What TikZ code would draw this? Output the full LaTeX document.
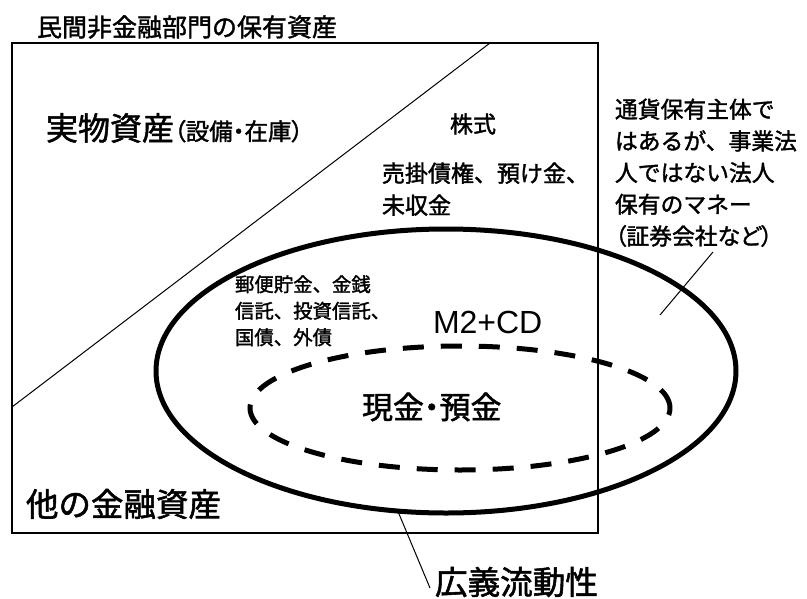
\documentclass[tikz,border=0pt]{standalone}
\usepackage{fontspec}
\setmainfont{Noto Sans CJK JP}[FakeBold=1.6]
\newfontfamily\pfont{Noto Sans CJK JP}[RawFeature=+palt, FakeBold=1.6]
\newfontfamily\latinfont{Liberation Sans}
\usetikzlibrary{shapes.geometric}
\tikzset{
  txt/.style={inner sep=0pt, outer sep=0pt, anchor=west},
  mtxt/.style={inner sep=0pt, outer sep=0pt, anchor=north west, align=left},
  frame/.style={line width=1.3pt},
  thin/.style={line width=1pt},
  bigell/.style={draw, ellipse, line width=5pt, inner sep=0pt, outer sep=0pt},
  dashell/.style={draw, ellipse, line width=5pt, inner sep=0pt, outer sep=0pt, dash pattern=on 21pt off 17pt}
}
\begin{document}
\begin{tikzpicture}[x=1pt,y=-1pt]
\useasboundingbox (0,0) rectangle (807,598);
% frame and diagonal
\draw[frame] (12,43) rectangle (598,533);
\coordinate (d1) at (12,407);
\coordinate (d2) at (490,43);
\draw[thin] (d1) -- (d2);
% ellipses
\node[bigell, minimum width=580pt, minimum height=284pt] (broad) at (446,371) {};
\node[dashell, minimum width=420pt, minimum height=124pt] (cash) at (460,408) {};
% texts
\node[txt, font=\fontsize{25}{30}\selectfont] (title) at (37,27) {民間非金融部門の保有資産};
\node[txt] (real) at (46,128) {\fontsize{32}{36}\selectfont 実物資産{\pfont\fontsize{23.5}{28}\selectfont （設備・在庫）}};
\node[txt, font=\fontsize{23}{28}\selectfont] (stock) at (450,124) {株式};
\node[mtxt, font=\fontsize{23}{32}\selectfont] (recv) at (382,162.5) {売掛債権、預け金、\\未収金};
\node[mtxt, font=\fontsize{22.8}{31.7}\selectfont] (money) at (615,98.6) {通貨保有主体で\\はあるが、事業法\\人ではない法人\\保有のマネー\\{\pfont （証券会社など）}};
\node[mtxt, font=\fontsize{19.4}{26.5}\selectfont] (postal) at (235,275.3) {郵便貯金、金銭\\信託、投資信託、\\国債、外債};
\node[txt, font=\latinfont\fontsize{32}{36}\selectfont] (m2) at (433,322) {M2+CD};
\node[txt, font=\pfont\fontsize{31}{36}\selectfont] (cashlbl) at (362,407) {現金・預金};
\node[txt, font=\fontsize{32.5}{36}\selectfont] (other) at (26,504) {他の金融資産};
\node[txt, font=\fontsize{32.6}{36}\selectfont] (kogi) at (435,582) {広義流動性};
% leaders
\coordinate (k2) at (430,588);
\draw[thin] (broad.251) -- (k2);
\coordinate (r1) at (713,252);
\coordinate (r2) at (660,315);
\draw[thin] (r1) -- (r2);
\end{tikzpicture}
\end{document}
